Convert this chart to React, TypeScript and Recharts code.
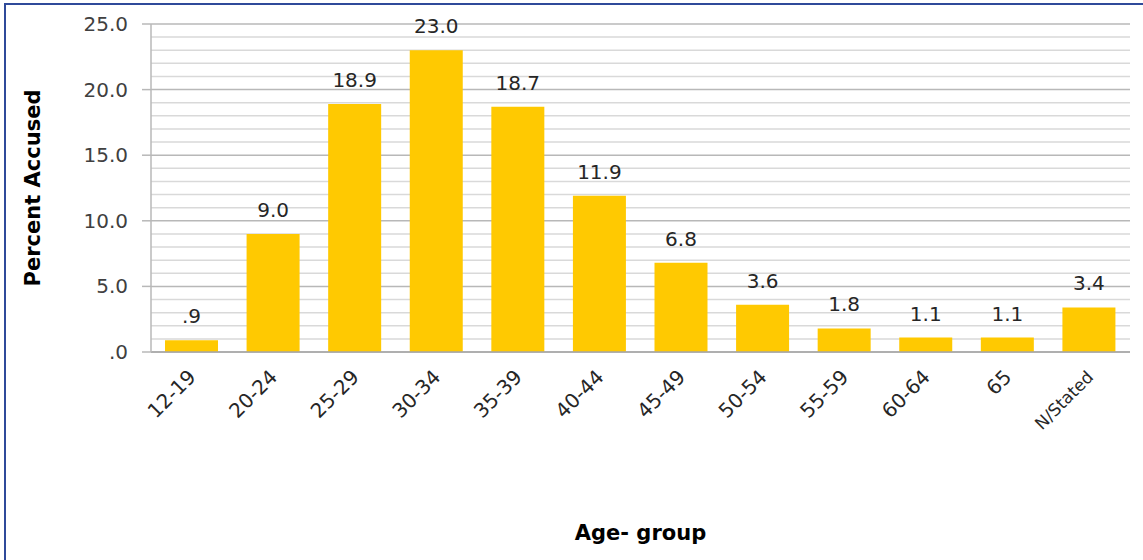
import { BarChart, Bar, XAxis, YAxis, CartesianGrid, LabelList, Label } from 'recharts'

const ageGroups = ['12-19', '20-24', '25-29', '30-34', '35-39', '40-44', '45-49', '50-54', '55-59', '60-64', '65', 'N/Stated']
const percentAccused = [0.9, 9.0, 18.9, 23.0, 18.7, 11.9, 6.8, 3.6, 1.8, 1.1, 1.1, 3.4]
const majorTicks = [0, 5, 10, 15, 20, 25]
const allTicks = [0, 1, 2, 3, 4, 5, 6, 7, 8, 9, 10, 11, 12, 13, 14, 15, 16, 17, 18, 19, 20, 21, 22, 23, 24, 25]

const data = ageGroups.map((group, i) => ({ group, value: percentAccused[i] }))

const fmt = (v: number) => {
  const s = Number(v).toFixed(1)
  return s.startsWith('0') ? s.slice(1) : s
}

const font = '"DejaVu Sans", sans-serif'
const TICK_SIZE = 9
const TICK_MARGIN = 14

function AgeTick({ x, y, payload }: any) {
  const small = String(payload.value).length > 5
  return (
    <g transform={`translate(${x + 1},${y + 14})`}>
      <text
        textAnchor="end"
        transform="rotate(-45)"
        fontFamily={font}
        fontSize={small ? 17 : 20}
        fill="#262626"
        dy={6}
      >
        {payload.value}
      </text>
    </g>
  )
}

function PercentTick({ x, y, payload }: any) {
  if (!majorTicks.includes(payload.value)) return <g />
  return (
    <g>
      <line
        x1={x + TICK_MARGIN}
        x2={x + TICK_MARGIN + TICK_SIZE}
        y1={y}
        y2={y}
        stroke="#b8b8b8"
        strokeWidth={1.5}
      />
      <text x={x} y={y} dy={7} textAnchor="end" fontFamily={font} fontSize={20} fill="#404040">
        {fmt(payload.value)}
      </text>
    </g>
  )
}

function GridLine(props: any) {
  const { x1, x2, y1, y2, index } = props
  const major = majorTicks.includes(allTicks[index])
  return (
    <line
      x1={x1}
      x2={x2}
      y1={y1}
      y2={y2}
      stroke={major ? '#b8b8b8' : '#d9d9d9'}
      strokeWidth={1.5}
    />
  )
}

export default function App() {
  return (
    <div style={{ position: 'absolute', left: 0, top: 0, width: 1143, height: 560, background: '#fff', overflow: 'hidden' }}>
      <div
        style={{
          position: 'absolute',
          left: 4,
          top: 3,
          right: -10,
          bottom: -10,
          borderTop: '2px solid #2F4A9A',
          borderLeft: '2px solid #2F4A9A',
        }}
      />
      <div style={{ position: 'absolute', left: 0, top: 0 }}>
        <BarChart
          width={1143}
          height={560}
          data={data}
          margin={{ top: 24, right: 13, left: 0, bottom: 0 }}
          barCategoryGap="17.5%"
        >
          <CartesianGrid vertical={false} horizontal={(p: any) => <GridLine {...p} />} />
          <XAxis
            dataKey="group"
            interval={0}
            height={208}
            tickLine={false}
            axisLine={{ stroke: '#a6a6a6', strokeWidth: 1.5 }}
            tick={<AgeTick />}
          >
            <Label
              value="Age- group"
              position="insideBottom"
              offset={20}
              style={{ fontFamily: font, fontWeight: 'bold', fontSize: 21, fill: '#000' }}
            />
          </XAxis>
          <YAxis
            width={151}
            domain={[0, 25]}
            ticks={allTicks}
            interval={0}
            tickSize={TICK_SIZE}
            tickMargin={TICK_MARGIN}
            tickLine={false}
            axisLine={{ stroke: '#b8b8b8', strokeWidth: 1.5 }}
            tick={<PercentTick />}
          >
            <Label
              value="Percent Accused"
              angle={-90}
              position="insideLeft"
              offset={33}
              style={{ fontFamily: font, fontWeight: 'bold', fontSize: 21, fill: '#000', textAnchor: 'middle' }}
            />
          </YAxis>
          <Bar dataKey="value" fill="#FFC901" barSize={53} isAnimationActive={false}>
            <LabelList
              dataKey="value"
              position="top"
              offset={17}
              formatter={(v: any) => fmt(v)}
              style={{ fontFamily: font, fontSize: 20, fill: '#262626' }}
            />
          </Bar>
        </BarChart>
      </div>
    </div>
  )
}
